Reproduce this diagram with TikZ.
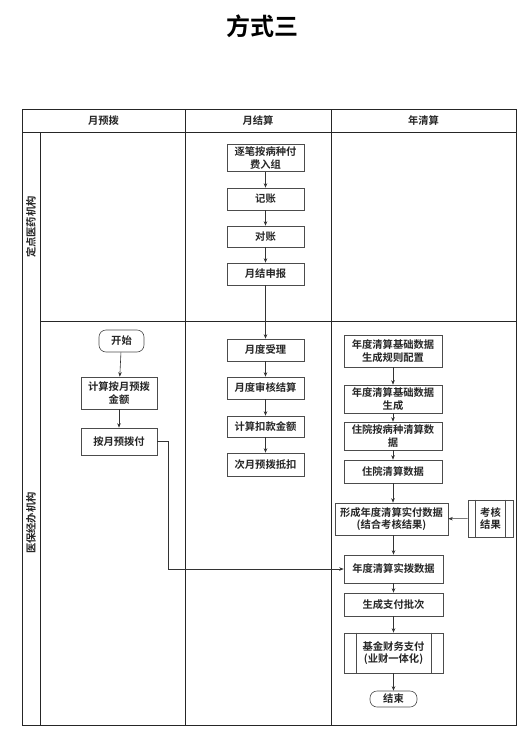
\documentclass[tikz,border=0pt]{standalone}
\usepackage{fontspec}
\newfontfamily\cjk{Noto Sans CJK SC}[BoldFont={Noto Sans CJK SC Bold}]
\usetikzlibrary{arrows.meta}
\begin{document}
\begin{tikzpicture}[x=1pt,y=-1pt,
  font=\cjk\bfseries\fontsize{10.3}{12.5}\selectfont,
  grid/.style={draw=black!85, line width=1pt},
  box/.style={draw=black!70, line width=0.6pt, rectangle, align=center, inner sep=1pt, text=black!85},
  term/.style={box, rounded corners=7pt},
  arr/.style={draw=black!80, line width=0.6pt, -{Stealth[length=4.5pt,width=3.5pt]}},
  hdr/.style={text=black!85}]
\useasboundingbox (0,0) rectangle (523,736);
% title
\node[font=\cjk\bfseries\fontsize{24}{28}\selectfont] (title) at (262,26) {方式三};
% table
\draw[grid] (22,109) rectangle (516,725);
\draw[grid] (22,132) -- (516,132);
\draw[grid] (40,132) -- (40,725);
\draw[grid] (40,321) -- (516,321);
\draw[grid] (185,109) -- (185,725);
\draw[grid] (331,109) -- (331,725);
\node[hdr] (h1) at (103.5,120.5) {月预拨};
\node[hdr] (h2) at (258,120.5) {月结算};
\node[hdr] (h3) at (423.5,120.5) {年清算};
\node[hdr, rotate=90] (l1) at (31,227) {定点医药机构};
\node[hdr, rotate=90] (l2) at (31,523) {医保经办机构};
% left column
\node[term, minimum width=45pt, minimum height=22pt] (a1) at (121.5,341) {开始};
\node[box, minimum width=76pt, minimum height=32pt] (a2) at (119,393) {计算按月预拨\\金额};
\node[box, minimum width=76pt, minimum height=27pt] (a3) at (119,441.5) {按月预拨付};
% middle column
\node[box, minimum width=77pt, minimum height=27pt] (b1) at (265.5,158) {逐笔按病种付\\费入组};
\node[box, minimum width=77pt, minimum height=22pt] (b2) at (265.5,199) {记账};
\node[box, minimum width=77pt, minimum height=21pt] (b3) at (265.5,236.5) {对账};
\node[box, minimum width=77pt, minimum height=22pt] (b4) at (265.5,274) {月结申报};
\node[box, minimum width=77pt, minimum height=22pt] (b5) at (265.5,350) {月度受理};
\node[box, minimum width=77pt, minimum height=22pt] (b6) at (265.5,388) {月度审核结算};
\node[box, minimum width=77pt, minimum height=21pt] (b7) at (265.5,426.5) {计算扣款金额};
\node[box, minimum width=77pt, minimum height=23pt] (b8) at (265.5,464.5) {次月预拨抵扣};
% right column
\node[box, minimum width=98pt, minimum height=32pt] (c1) at (393,351) {年度清算基础数据\\生成规则配置};
\node[box, minimum width=98pt, minimum height=28pt] (c2) at (393,399) {年度清算基础数据\\生成};
\node[box, minimum width=98pt, minimum height=28pt] (c3) at (393,436) {住院按病种清算数\\据};
\node[box, minimum width=98pt, minimum height=23pt] (c4) at (393,471.5) {住院清算数据};
\node[box, minimum width=113pt, minimum height=32pt] (c5) at (391.5,519) {形成年度清算实付数据\\(结合考核结果)};
\node[box, minimum width=45pt, minimum height=37pt] (k) at (490.5,518.5) {考核\\结果};
\draw[draw=black!70, line width=0.6pt] ([xshift=8pt]k.north west) -- ([xshift=8pt]k.south west)
  ([xshift=-8pt]k.north east) -- ([xshift=-8pt]k.south east);
\node[box, minimum width=99pt, minimum height=28pt] (c6) at (393.5,569) {年度清算实拨数据};
\node[box, minimum width=99pt, minimum height=23pt] (c7) at (393.5,604.5) {生成支付批次};
\node[box, minimum width=99pt, minimum height=40pt] (c8) at (393.5,653) {基金财务支付\\(业财一体化)};
\draw[draw=black!70, line width=0.6pt] ([xshift=13pt]c8.north west) -- ([xshift=13pt]c8.south west)
  ([xshift=-12pt]c8.north east) -- ([xshift=-12pt]c8.south east);
\node[term, minimum width=47pt, minimum height=16pt] (c9) at (393.5,699) {结束};
% connectors
\draw[arr] (a1) -- (a2);
\draw[arr] (a2) -- (a3);
\draw[arr] (a3.east) -- ++(11,0) |- (c6.west);
\draw[arr] (b1) -- (b2);
\draw[arr] (b2) -- (b3);
\draw[arr] (b3) -- (b4);
\draw[arr] (b4) -- (b5);
\draw[arr] (b5) -- (b6);
\draw[arr] (b6) -- (b7);
\draw[arr] (b7) -- (b8);
\draw[arr] (c1) -- (c2);
\draw[arr] (c2) -- (c3);
\draw[arr] (c3) -- (c4);
\draw[arr] (c4.south) -- (c4.south |- c5.north);
\draw[arr] (k) -- (c5);
\draw[arr] (c5.south -| c6.north) -- (c6.north);
\draw[arr] (c6) -- (c7);
\draw[arr] (c7) -- (c8);
\draw[arr] (c8) -- (c9);
\end{tikzpicture}
\end{document}
